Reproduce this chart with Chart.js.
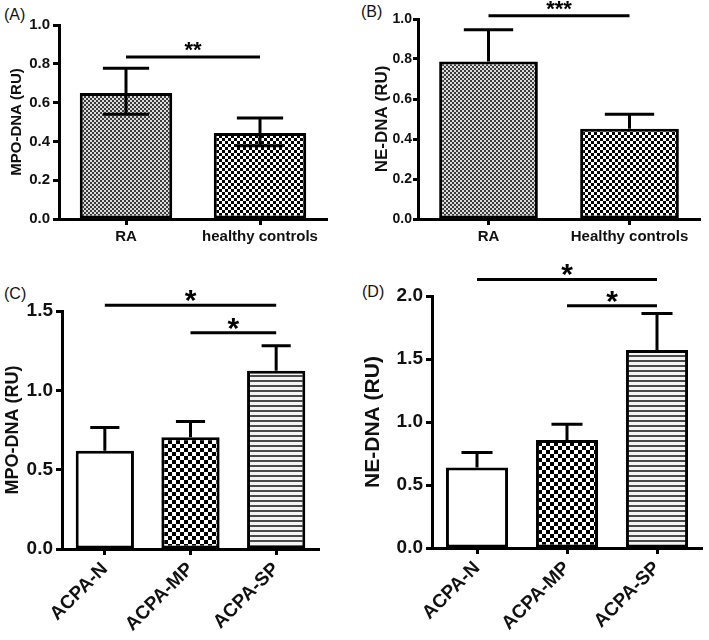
<!DOCTYPE html>
<html>
<head>
<meta charset="utf-8">
<script src="https://cdn.jsdelivr.net/npm/chart.js@4/dist/chart.umd.min.js"></script>
<style>
body{margin:0;width:709px;height:640px;background:#fff;position:relative;overflow:hidden;font-family:"Liberation Sans",Arial,sans-serif}
canvas{position:absolute}
.tag{position:absolute;font-size:16px;color:#111}
</style>
</head>
<body>
<div class="tag" style="left:4px;top:6px">(A)</div>
<div class="tag" style="left:361px;top:3px">(B)</div>
<div class="tag" style="left:4px;top:285px">(C)</div>
<div class="tag" style="left:362px;top:283px">(D)</div>
<canvas id="chartA" width="354" height="280" style="left:0;top:0"></canvas>
<canvas id="chartB" width="355" height="250" style="left:354px;top:0"></canvas>
<canvas id="chartC" width="354" height="360" style="left:0;top:280px"></canvas>
<canvas id="chartD" width="355" height="390" style="left:354px;top:250px"></canvas>
<script>
// panel A: MPO-DNA, RA vs controls
const groupsA = ['RA', 'healthy controls']
const mpoMean = [0.65, 0.443]
const mpoUpper = [0.777, 0.52]
const mpoLower = [0.54, 0.378]
const sigA = [[0, 1, 0.835, '**']]

// panel B: NE-DNA, RA vs controls
const groupsB = ['RA', 'Healthy controls']
const neMean = [0.788, 0.451]
const neUpper = [0.946, 0.524]
const sigB = [[0, 1, 1.016, '***']]

// panels C and D: by ACPA group
const acpaGroups = ['ACPA-N', 'ACPA-MP', 'ACPA-SP']
const mpoAcpaMean = [0.619, 0.705, 1.124]
const mpoAcpaUpper = [0.765, 0.803, 1.281]
const sigC = [[0, 2, 1.537, '*'], [1, 2, 1.363, '*']]
const neAcpaMean = [0.639, 0.858, 1.571]
const neAcpaUpper = [0.758, 0.982, 1.862]
const sigD = [[0, 2, 2.13, '*'], [1, 2, 1.922, '*']]

const FONT = '"Liberation Sans", Arial, sans-serif'
Chart.defaults.font.family = FONT
Chart.defaults.color = '#111'

function checker(cell, dark, light){
    const c = document.createElement('canvas')
    c.width = c.height = cell * 2
    const g = c.getContext('2d')
    g.fillStyle = light
    g.fillRect(0, 0, cell * 2, cell * 2)
    g.fillStyle = dark
    g.fillRect(0, 0, cell, cell)
    g.fillRect(cell, cell, cell, cell)
    return g.createPattern(c, 'repeat')
}

function stripes(dark, light){
    const c = document.createElement('canvas')
    c.width = 5
    c.height = 5
    const g = c.getContext('2d')
    g.fillStyle = light
    g.fillRect(0, 0, 5, 5)
    g.fillStyle = dark
    g.fillRect(0, 0, 5, 2)
    return g.createPattern(c, 'repeat')
}

const fine = checker(2, '#3c3c3c', '#dcdcdc')
const coarse = checker(3, '#000', '#fff')
const coarse4 = checker(4, '#000', '#fff')
const lined = stripes('#4a4a4a', '#f4f4f4')

function extrasPlugin(upper, lower, sig, starSize){
    return {
        id: 'extras',
        afterDatasetsDraw(chart){
            const ctx = chart.ctx
            const y = chart.scales.y
            const bars = chart.getDatasetMeta(0).data
            ctx.save()
            ctx.strokeStyle = '#000'
            ctx.lineWidth = 3
            bars.forEach((bar, i) => {
                const half = bar.width / 4
                const ends = [upper[i]]
                if(lower && lower[i] != null) ends.push(lower[i])
                ends.forEach((v) => {
                    const py = y.getPixelForValue(v)
                    ctx.beginPath()
                    ctx.moveTo(bar.x, bar.y)
                    ctx.lineTo(bar.x, py)
                    ctx.moveTo(bar.x - half, py)
                    ctx.lineTo(bar.x + half, py)
                    ctx.stroke()
                })
            })
            ctx.fillStyle = '#000'
            ctx.font = 'bold ' + starSize + 'px ' + FONT
            ctx.textAlign = 'center'
            ctx.textBaseline = 'alphabetic'
            sig.forEach(([a, b, v, stars]) => {
                const x1 = bars[a].x
                const x2 = bars[b].x
                const py = y.getPixelForValue(v)
                ctx.beginPath()
                ctx.moveTo(x1, py)
                ctx.lineTo(x2, py)
                ctx.stroke()
                ctx.fillText(stars, (x1 + x2) / 2, py - 12 + starSize * 0.56)
            })
            ctx.restore()
        }
    }
}

function makeChart(id, p){
    const canvas = document.getElementById(id)
    new Chart(canvas.getContext('2d'), {
        type: 'bar',
        data: {
            labels: p.labels,
            datasets: [{
                data: p.values,
                backgroundColor: p.fills,
                borderColor: '#000',
                borderWidth: 3,
                borderSkipped: false,
                categoryPercentage: 1,
                barPercentage: p.barPct,
            }],
        },
        options: {
            responsive: false,
            animation: false,
            events: [],
            layout: {padding: {left: p.padLeft, top: p.area.t, right: canvas.width - p.area.r, bottom: 0}},
            plugins: {legend: {display: false}, tooltip: {enabled: false}},
            scales: {
                x: {
                    offset: true,
                    border: {display: true, color: '#000', width: 3},
                    grid: {display: true, offset: false, drawOnChartArea: false, drawTicks: true, tickLength: 6, tickColor: '#000', tickWidth: 3},
                    ticks: {
                        color: '#111',
                        font: {size: p.xFont, weight: 'bold'},
                        maxRotation: p.rotate, minRotation: p.rotate,
                        padding: 3,
                        autoSkip: false,
                    },
                    afterFit: (s) => { s.height = canvas.height - p.area.b },
                },
                y: {
                    min: 0, max: p.yMax,
                    border: {display: true, color: '#000', width: 3},
                    grid: {display: true, drawOnChartArea: false, drawTicks: true, tickLength: p.yTick, tickColor: '#000', tickWidth: 3},
                    ticks: {
                        stepSize: p.yStep,
                        color: '#111',
                        font: {size: p.yFont, weight: 'bold'},
                        padding: p.yPad,
                        callback: (v) => v.toFixed(1),
                    },
                    title: {display: true, text: p.yTitle, color: '#111', font: {size: p.titleFont, weight: 'bold'}, padding: 0},
                    afterFit: (s) => { s.width = p.area.l - p.padLeft },
                },
            },
        },
        plugins: [extrasPlugin(p.upper, p.lower, p.sig, p.starSize)],
    })
}

makeChart('chartA', {
    labels: groupsA, values: mpoMean, upper: mpoUpper, lower: mpoLower, sig: sigA,
    fills: [fine, coarse], barPct: 0.69, yMax: 1, yStep: 0.2, yTick: 6, yPad: 3,
    yTitle: 'MPO-DNA (RU)', titleFont: 15, padLeft: 8, xFont: 15, yFont: 15, rotate: 0, starSize: 22,
    area: {l: 59, t: 25, r: 327, b: 219},
})

makeChart('chartB', {
    labels: groupsB, values: neMean, upper: neUpper, lower: null, sig: sigB,
    fills: [fine, coarse], barPct: 0.7, yMax: 1, yStep: 0.2, yTick: 5, yPad: 1,
    yTitle: 'NE-DNA (RU)', titleFont: 17, padLeft: 18, xFont: 15, yFont: 14, rotate: 0, starSize: 22,
    area: {l: 64, t: 19, r: 346, b: 219},
})

makeChart('chartC', {
    labels: acpaGroups, values: mpoAcpaMean, upper: mpoAcpaUpper, lower: null, sig: sigC,
    fills: ['#fff', coarse4, lined], barPct: 0.68, yMax: 1.5, yStep: 0.5, yTick: 6, yPad: 3,
    yTitle: 'MPO-DNA (RU)', titleFont: 18, padLeft: 2, xFont: 19, yFont: 19, rotate: 45, starSize: 30,
    area: {l: 62, t: 31, r: 319, b: 269},
})

makeChart('chartD', {
    labels: acpaGroups, values: neAcpaMean, upper: neAcpaUpper, lower: null, sig: sigD,
    fills: ['#fff', coarse4, lined], barPct: 0.69, yMax: 2, yStep: 0.5, yTick: 6, yPad: 3,
    yTitle: 'NE-DNA (RU)', titleFont: 21, padLeft: 7, xFont: 19, yFont: 19, rotate: 45, starSize: 30,
    area: {l: 78, t: 46, r: 348, b: 298},
})
</script>
</body>
</html>
